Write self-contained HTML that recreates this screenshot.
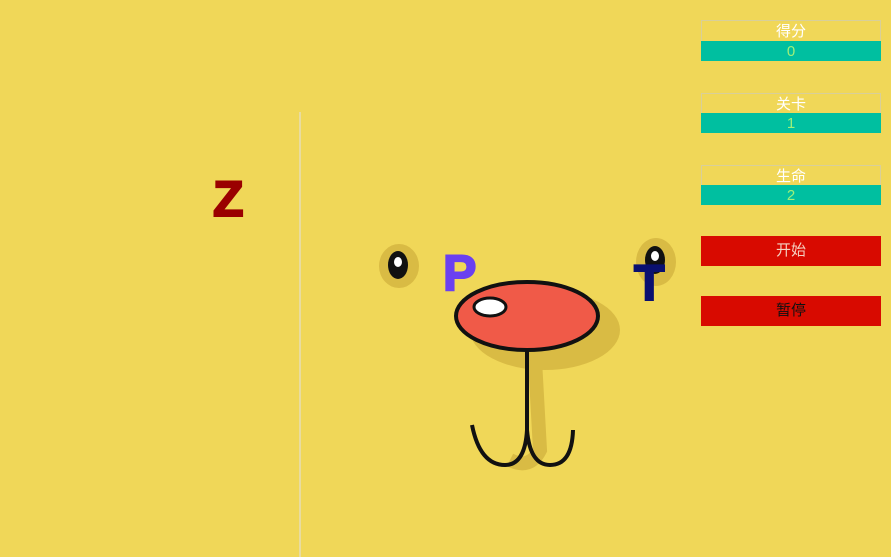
<!DOCTYPE html>
<html><head><meta charset="utf-8"><style>
body{margin:0;width:891px;height:557px;overflow:hidden;background:#f0d758;font-family:"Liberation Sans","Noto Sans CJK SC",sans-serif;position:relative}
.a{position:absolute}
.lbl{left:701px;width:178px;height:20px;border:1px solid #d8cf9a;border-bottom:none;color:#fff;font-size:15px;text-align:center;line-height:22px}
.val{left:701px;width:180px;height:20px;background:#00bfa0;color:#9ff07a;font-size:15px;text-align:center;line-height:21px}
.btn{left:701px;width:180px;height:30px;background:#d80a00;font-size:15px;text-align:center;line-height:30px}
.L{font-weight:bold;font-size:50px;line-height:1;-webkit-text-stroke:2px currentColor}
</style></head><body>
<div class="a" style="left:299px;top:112px;width:2px;height:445px;background:#e8dca0"></div>
<svg class="a" style="left:0;top:0" width="891" height="557">
<ellipse cx="399" cy="266" rx="20" ry="22" fill="#d9bb44"/>
<ellipse cx="398" cy="265" rx="10" ry="14" fill="#111"/><ellipse cx="398" cy="262" rx="4" ry="5" fill="#fff"/>
<ellipse cx="656" cy="262" rx="20" ry="24" fill="#d9bb44"/>
<ellipse cx="655" cy="260" rx="10" ry="14" fill="#111"/><ellipse cx="655" cy="256" rx="4" ry="5" fill="#fff"/>
<ellipse cx="545" cy="330" rx="75" ry="40" fill="#d9bb44"/>
<path d="M535 360 L540 450 Q530 470 510 460" stroke="#d9bb44" stroke-width="14" fill="none"/>
<ellipse cx="527" cy="316" rx="71" ry="34" fill="#f05a48" stroke="#111" stroke-width="4"/>
<ellipse cx="490" cy="307" rx="16" ry="9" fill="#fff" stroke="#111" stroke-width="3"/>
<path d="M527 350 L527 430 Q525 465 505 465 Q480 465 472 425 M527 430 Q530 465 550 465 Q572 465 573 430" stroke="#111" stroke-width="4" fill="none"/>
</svg>
<div class="a L" style="left:213px;top:174px;color:#9a0000">Z</div>
<div class="a L" style="left:443px;top:248px;color:#6a40f0">P</div>
<div class="a L" style="left:634px;top:258px;color:#0a1070">T</div>
<div class="a lbl" style="top:20px">得分</div>
<div class="a val" style="top:41px">0</div>
<div class="a lbl" style="top:93px">关卡</div>
<div class="a val" style="top:113px">1</div>
<div class="a lbl" style="top:165px">生命</div>
<div class="a val" style="top:185px">2</div>
<div class="a btn" style="top:236px;color:#f4d0c0">开始</div>
<div class="a btn" style="top:296px;color:#111">暂停</div>
</body></html>
